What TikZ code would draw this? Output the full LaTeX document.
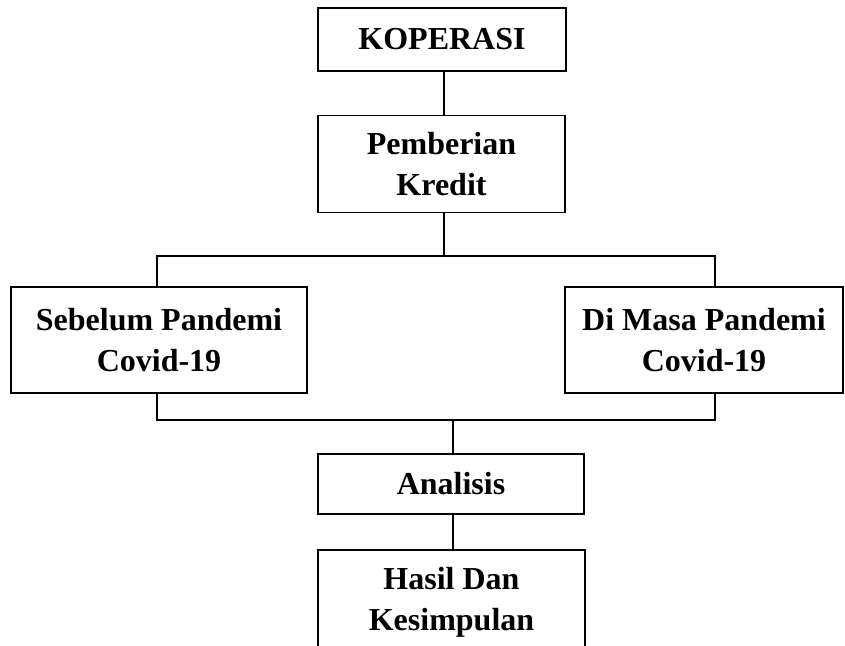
\documentclass[tikz,border=0pt]{standalone}
\usepackage{fontspec}
\setmainfont{Liberation Serif}
\begin{document}
\begin{tikzpicture}[x=1pt,y=1pt,
  box/.style={draw, line width=1.5pt, align=center, inner sep=0pt,
    font=\bfseries\fontsize{32}{41}\selectfont},
  conn/.style={line width=1.8pt}]
\useasboundingbox (0,0) rectangle (845,-645);
\clip (0,0) rectangle (845,-645);
\node[box, minimum width=248, minimum height=63] (kop) at (442,-39.5) {KOPERASI};
\node[box, minimum width=247, minimum height=97] (pk) at (441.5,-164) {Pemberian\\Kredit};
\node[box, minimum width=296, minimum height=106] (seb) at (159,-340) {Sebelum Pandemi\\Covid-19};
\node[box, minimum width=278, minimum height=106] (dim) at (704,-340) {Di Masa Pandemi\\Covid-19};
\node[box, minimum width=266, minimum height=60] (ana) at (451,-484) {Analisis};
\node[box, minimum width=267, minimum height=104] (has) at (451.5,-602) {Hasil Dan\\Kesimpulan};
\coordinate (t) at (444,-256);
\coordinate (tl) at (157,-256);
\coordinate (tr) at (715,-256);
\coordinate (bl) at (157,-420);
\coordinate (br) at (715,-420);
\coordinate (bm) at (453,-420);
\draw[conn] (kop.south -| t) -- (pk.north -| t);
\draw[conn] (pk.south -| t) -- (t);
\draw[conn] (tl |- seb.north) -- (tl) -- (tr) -- (tr |- dim.north);
\draw[conn] (bl |- seb.south) -- (bl) -- (br) -- (br |- dim.south);
\draw[conn] (bm) -- (bm |- ana.north);
\draw[conn] (ana.south -| bm) -- (has.north -| bm);
\end{tikzpicture}
\end{document}
